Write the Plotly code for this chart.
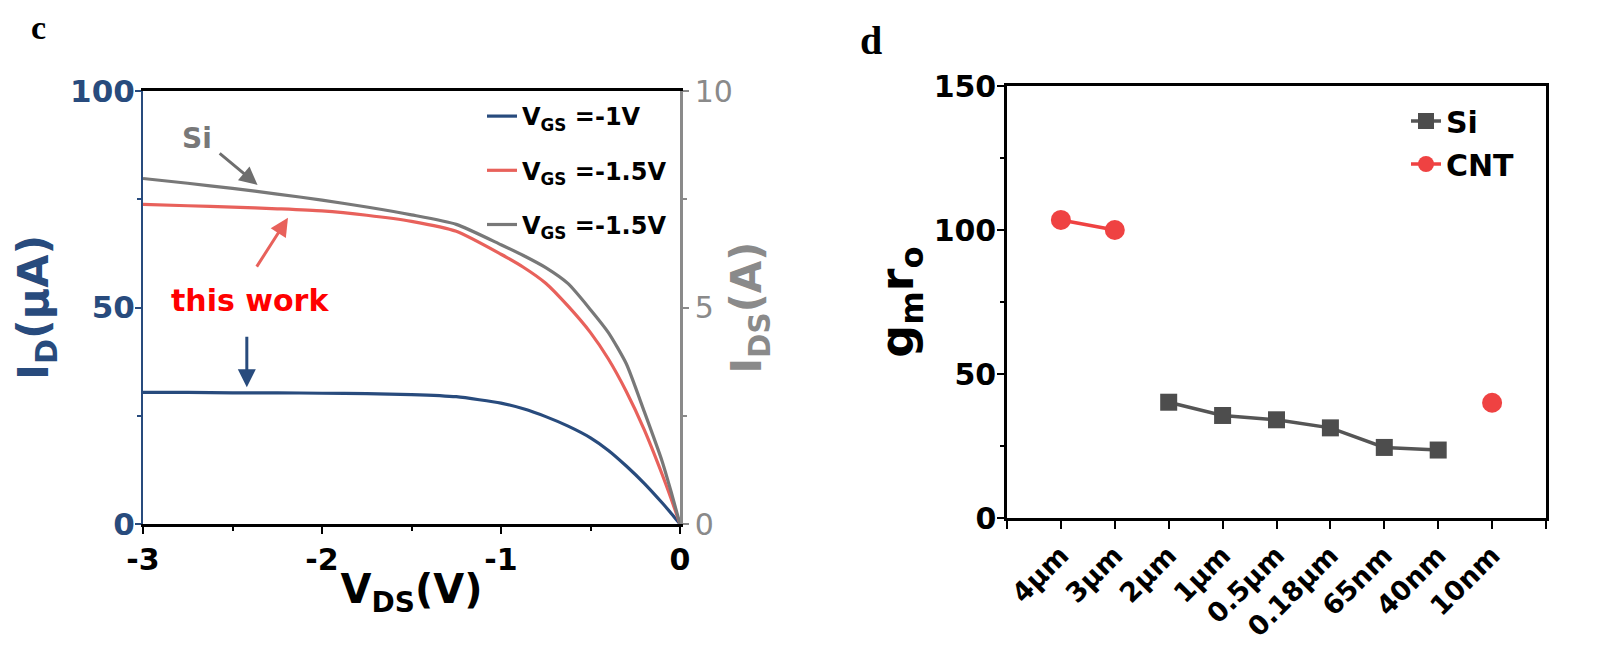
import plotly.graph_objects as go

# ---------------- data: panel c (output characteristics) ----------------
vds = [-3.0, -2.75, -2.5, -2.25, -2.0, -1.75, -1.5, -1.25, -1.0, -0.875, -0.75,
       -0.625, -0.5, -0.4, -0.3, -0.2, -0.1, -0.05, 0.0]
id_vgs_1 = [30.4, 30.4, 30.3, 30.3, 30.2, 30.1, 29.9, 29.4, 27.9, 26.6, 24.8,
            22.6, 19.9, 17.0, 13.4, 9.4, 4.9, 2.5, 0.0]          # µA, left axis
id_cnt_15 = [73.8, 73.5, 73.2, 72.8, 72.3, 71.3, 69.9, 67.6, 62.3, 59.3, 55.6,
             50.3, 44.2, 38.1, 30.6, 21.8, 11.5, 5.9, 0.0]       # µA, left axis
ids_si_15 = [7.98, 7.87, 7.75, 7.62, 7.48, 7.32, 7.14, 6.92, 6.45, 6.20, 5.92,
             5.55, 4.95, 4.42, 3.70, 2.60, 1.45, 0.75, 0.0]      # A, right axis
legend_c = ["V<sub>GS</sub> =-1V", "V<sub>GS</sub> =-1.5V", "V<sub>GS</sub> =-1.5V"]
x_ticks_c = [-3, -2, -1, 0]
y_ticks_c = [0, 50, 100]
y2_ticks_c = [0, 5, 10]

# ---------------- data: panel d (intrinsic gain) ----------------
nodes = ["4μm", "3μm", "2μm", "1μm", "0.5μm", "0.18μm", "65nm", "40nm", "10nm"]
gmro_si = [None, None, 40.2, 35.6, 34.1, 31.3, 24.5, 23.6, None]
gmro_cnt = [103.5, 100.0, None, None, None, None, None, None, 40.0]
y_ticks_d = [0, 50, 100, 150]

# ---------------- styles ----------------
W, H = 1602, 658
OFF = 8  # page body margin in the browser
FONT = "DejaVu Sans, Liberation Sans, Arial, sans-serif"
SERIF = "Liberation Serif, Times New Roman, serif"
BLUE = "#284b7d"
RED_LINE = "#e8615b"
GRAY = "#787878"
AX_GRAY = "#8a8a8a"
SI_COL = "#4d4d4d"
CNT_COL = "#ef4242"


def px_x(p):
    return (p - OFF) / W


def px_y(p):
    return (H - (p - OFF)) / H


fig = go.Figure()

# panel c traces
fig.add_trace(go.Scatter(x=vds, y=id_vgs_1, mode="lines", name=legend_c[0],
                         line=dict(color=BLUE, width=3.2, shape="spline", smoothing=0.6),
                         xaxis="x", yaxis="y", legend="legend", legendgroup="a"))
fig.add_trace(go.Scatter(x=vds, y=id_cnt_15, mode="lines", name=legend_c[1],
                         line=dict(color=RED_LINE, width=3.2, shape="spline", smoothing=0.6),
                         xaxis="x", yaxis="y", legend="legend", legendgroup="b"))
fig.add_trace(go.Scatter(x=vds, y=ids_si_15, mode="lines", name=legend_c[2],
                         line=dict(color=GRAY, width=3.2, shape="spline", smoothing=0.6),
                         xaxis="x", yaxis="y2", legend="legend", legendgroup="c"))

# panel d traces
xpos = list(range(len(nodes)))
fig.add_trace(go.Scatter(x=xpos, y=gmro_si, mode="lines+markers", name="Si",
                         line=dict(color="#555555", width=3.5),
                         marker=dict(symbol="square", size=17, color=SI_COL),
                         connectgaps=False, xaxis="x2", yaxis="y3", legend="legend2",
                         legendgroup="si"))
fig.add_trace(go.Scatter(x=xpos, y=gmro_cnt, mode="lines+markers", name="CNT",
                         line=dict(color=CNT_COL, width=3.5),
                         marker=dict(symbol="circle", size=20, color=CNT_COL),
                         connectgaps=False, xaxis="x2", yaxis="y3", legend="legend2",
                         legendgroup="cnt"))

tick_bold = dict(family=FONT, size=30, color="black", weight="bold")

fig.update_layout(
    width=W, height=H, autosize=False,
    margin=dict(l=0, r=0, t=0, b=0, pad=0),
    paper_bgcolor="white", plot_bgcolor="white",
    font=dict(family=FONT),
    xaxis=dict(
        domain=[px_x(143), px_x(680)], anchor="y", range=[-3, 0], automargin=False,
        tickvals=x_ticks_c, ticktext=[str(v) for v in x_ticks_c],
        ticks="outside", ticklen=7, tickwidth=2, tickcolor="black",
        minor=dict(dtick=0.5, ticks="outside", ticklen=4, tickwidth=2, tickcolor="black"),
        showline=True, linecolor="black", linewidth=2.5, mirror=True,
        showgrid=False, zeroline=False, tickfont=tick_bold,
        title=dict(text="V<sub>DS</sub>(V)", standoff=0,
                   font=dict(family=FONT, size=40, color="black", weight="bold")),
    ),
    yaxis=dict(
        domain=[px_y(524), px_y(91)], anchor="x", range=[0, 100], automargin=False,
        tickvals=y_ticks_c, ticks="outside", ticklen=6, tickwidth=2, tickcolor=BLUE,
        minor=dict(dtick=25, ticks="outside", ticklen=4, tickwidth=2, tickcolor=BLUE),
        showline=True, linecolor=BLUE, linewidth=2, mirror=False,
        showgrid=False, zeroline=False, ticklabelstandoff=-6,
        tickfont=dict(family=FONT, size=31, color=BLUE, weight="bold"),
        title=dict(text="I<sub>D</sub>(μA)", standoff=20,
                   font=dict(family=FONT, size=43, color=BLUE, weight="bold")),
    ),
    yaxis2=dict(
        overlaying="y", side="right", anchor="x", range=[0, 10], automargin=False,
        tickvals=y2_ticks_c, ticks="outside", ticklen=6, tickwidth=2, tickcolor=AX_GRAY,
        minor=dict(dtick=2.5, ticks="outside", ticklen=4, tickwidth=2, tickcolor=AX_GRAY),
        showline=True, linecolor=AX_GRAY, linewidth=2.5,
        showgrid=False, zeroline=False,
        tickfont=dict(family=FONT, size=30, color=AX_GRAY),
        title=dict(text="I<sub>DS</sub>(A)", standoff=0,
                   font=dict(family=FONT, size=42, color=AX_GRAY, weight="bold")),
    ),
    xaxis2=dict(
        domain=[px_x(1007), px_x(1546)], anchor="y3", range=[-1, len(nodes)],
        automargin=False,
        tickvals=list(range(-1, len(nodes) + 1)),
        ticktext=[""] + nodes + [""], tickangle=-45,
        ticks="outside", ticklen=8, tickwidth=2, tickcolor="black",
        showline=True, linecolor="black", linewidth=2.5, mirror=True,
        showgrid=False, zeroline=False,
        tickfont=dict(family=FONT, size=27, color="black", weight="bold"),
    ),
    yaxis3=dict(
        domain=[px_y(518), px_y(86)], anchor="x2", range=[0, 150], automargin=False,
        tickvals=y_ticks_d, ticks="outside", ticklen=7, tickwidth=2, tickcolor="black",
        minor=dict(dtick=25, ticks="outside", ticklen=4, tickwidth=2, tickcolor="black"),
        showline=True, linecolor="black", linewidth=2.5, mirror=True,
        showgrid=False, zeroline=False, tickfont=tick_bold, ticklabelstandoff=-5,
        title=dict(text="g<sub>m</sub>r<sub>o</sub>", standoff=6,
                   font=dict(family=FONT, size=46, color="black", weight="bold")),
    ),
    legend=dict(x=px_x(482), y=px_y(94), xanchor="left", yanchor="top",
                bgcolor="rgba(0,0,0,0)", tracegroupgap=20,
                font=dict(family=FONT, size=24, color="black", weight="bold")),
    legend2=dict(x=px_x(1406), y=px_y(95), xanchor="left", yanchor="top",
                 bgcolor="rgba(0,0,0,0)", tracegroupgap=1,
                 font=dict(family=FONT, size=30, color="black", weight="bold")),
)

# annotation anchor positions (data units of panel c)
si_label = (-2.70, 89.0)
si_arrow = ((-2.58, 85.9), (-2.36, 78.3))
work_label = (-2.40, 51.7)
work_arrow = ((-2.37, 59.1), (-2.19, 70.7))
blue_arrow = ((-2.42, 43.6), (-2.42, 31.6))

anns = [
    dict(x=si_label[0], y=si_label[1], xref="x", yref="y", text="Si", showarrow=False,
         font=dict(family=FONT, size=28, color=GRAY, weight="bold")),
    dict(x=work_label[0], y=work_label[1], xref="x", yref="y", text="this work",
         showarrow=False, font=dict(family=FONT, size=30, color="#ff0000", weight="bold")),
]
for (tail, head, col) in [(si_arrow[0], si_arrow[1], "#6e6e6e"),
                          (work_arrow[0], work_arrow[1], RED_LINE),
                          (blue_arrow[0], blue_arrow[1], BLUE)]:
    anns.append(dict(x=head[0], y=head[1], ax=tail[0], ay=tail[1], xref="x", yref="y",
                     axref="x", ayref="y", text="", showarrow=True, arrowhead=2,
                     arrowsize=1.2, arrowwidth=3, arrowcolor=col, standoff=0))

anns.append(dict(x=px_x(39), y=px_y(27), xref="paper", yref="paper", text="c",
                 xanchor="center", yanchor="middle", showarrow=False,
                 font=dict(family=SERIF, size=34, color="black", weight="bold")))
anns.append(dict(x=px_x(871), y=px_y(40), xref="paper", yref="paper", text="d",
                 xanchor="center", yanchor="middle", showarrow=False,
                 font=dict(family=SERIF, size=40, color="black", weight="bold")))
fig.update_layout(annotations=anns)

fig.write_html("out.html")
